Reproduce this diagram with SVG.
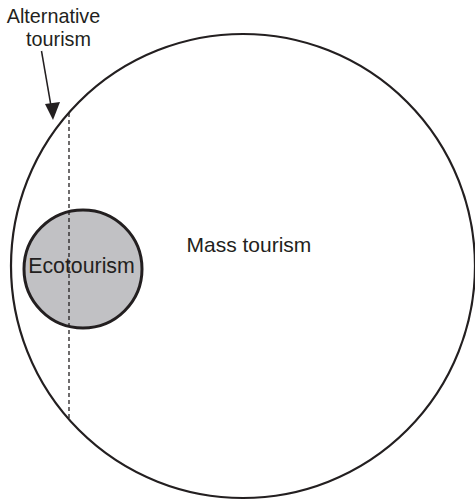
<svg xmlns="http://www.w3.org/2000/svg" width="475" height="501" viewBox="0 0 475 501">
<style>
text{font-family:"Liberation Sans",Arial,sans-serif;fill:#231f20}
.big{fill:none;stroke:#231f20;stroke-width:2.2}
.small{fill:#c1c1c4;stroke:#231f20;stroke-width:3}
.dash{stroke:#231f20;stroke-width:1.3;stroke-dasharray:4 3;fill:none}
</style>
<rect width="475" height="501" fill="#fff"/>
<g id="mass">
<circle class="big" cx="243" cy="266" r="232"/>
<text x="186.5" y="252" font-size="21">Mass tourism</text>
</g>
<g id="eco">
<circle class="small" cx="83" cy="269" r="59"/>
</g>
<g id="connectors">
<line class="dash" x1="69" y1="113" x2="69" y2="418"/>
<line x1="41.5" y1="51" x2="51" y2="106" stroke="#231f20" stroke-width="1.5"/>
<polygon points="53,120 45,104 60,102" fill="#231f20"/>
</g>
<g id="eco-label">
<text x="81.5" y="273" font-size="21.3" text-anchor="middle">Ecotourism</text>
</g>
<g id="alt">
<text x="53.5" y="23" font-size="19.8" text-anchor="middle">Alternative</text>
<text x="58.5" y="46" font-size="19.8" text-anchor="middle">tourism</text>
</g>
</svg>
